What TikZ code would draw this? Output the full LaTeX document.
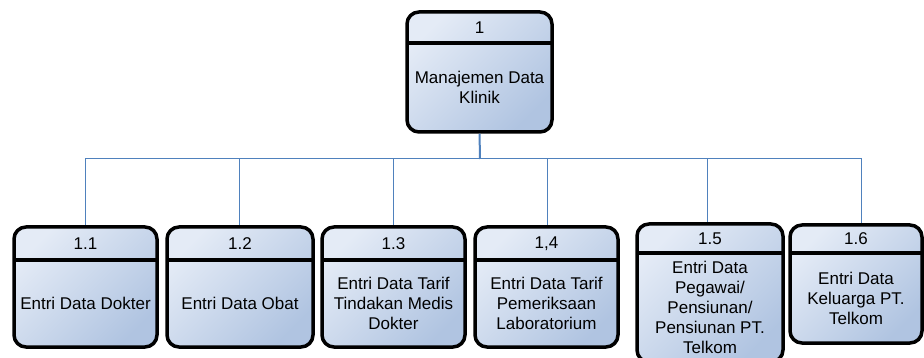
\documentclass[tikz,border=0pt]{standalone}
\usepackage{fontspec}
\setmainfont{Liberation Sans}
\usetikzlibrary{positioning}
\definecolor{boxlight}{RGB}{228,235,246}
\definecolor{boxdark}{RGB}{176,196,225}
\definecolor{linkblue}{RGB}{79,129,189}

\begin{document}
\begin{tikzpicture}[x=1pt, y=-1pt,
  proc/.style={draw, line width=3.5pt, rounded corners=12pt, outer sep=0pt, inner sep=0pt,
    top color=boxlight, bottom color=boxdark, shading angle=45},
  head/.style={inner sep=0pt, outer sep=0pt, font=\fontsize{17}{20}\selectfont},
  body/.style={inner sep=0pt, outer sep=0pt, align=center, font=\fontsize{17}{20}\selectfont},
  link/.style={draw=linkblue, line width=1pt, shorten >=1.75pt}]
\useasboundingbox (0,0) rectangle (924,358);

% level 0
\node[proc, minimum width=145pt, minimum height=120pt] (p1) at (479.5,72) {};
\node[head, minimum width=145pt, minimum height=31pt, below=0pt of p1.north] (p1h) {1};
\node[body, minimum width=145pt, minimum height=89pt, below=0pt of p1h] (p1b) {Manajemen Data\\Klinik};
\draw[line width=3.5pt] (p1h.south west) -- (p1h.south east);

% level 1
\node[proc, minimum width=143pt, minimum height=120pt] (p11) at (85.5,287) {};
\node[head, minimum width=143pt, minimum height=33pt, below=0pt of p11.north] (p11h) {1.1};
\node[body, minimum width=143pt, minimum height=87pt, below=0pt of p11h] (p11b) {Entri Data Dokter};
\draw[line width=3.5pt] (p11h.south west) -- (p11h.south east);

\node[proc, minimum width=146pt, minimum height=120pt] (p12) at (240,287) {};
\node[head, minimum width=146pt, minimum height=33pt, below=0pt of p12.north] (p12h) {1.2};
\node[body, minimum width=146pt, minimum height=87pt, below=0pt of p12h] (p12b) {Entri Data Obat};
\draw[line width=3.5pt] (p12h.south west) -- (p12h.south east);

\node[proc, minimum width=143pt, minimum height=120pt] (p13) at (393.5,287) {};
\node[head, minimum width=143pt, minimum height=33pt, below=0pt of p13.north] (p13h) {1.3};
\node[body, minimum width=143pt, minimum height=87pt, below=0pt of p13h] (p13b) {Entri Data Tarif\\Tindakan Medis\\Dokter};
\draw[line width=3.5pt] (p13h.south west) -- (p13h.south east);

\node[proc, minimum width=143pt, minimum height=120pt] (p14) at (546.5,287) {};
\node[head, minimum width=143pt, minimum height=33pt, below=0pt of p14.north] (p14h) {1,4};
\node[body, minimum width=143pt, minimum height=87pt, below=0pt of p14h] (p14b) {Entri Data Tarif\\Pemeriksaan\\Laboratorium};
\draw[line width=3.5pt] (p14h.south west) -- (p14h.south east);

\node[proc, minimum width=146pt, minimum height=138pt] (p15) at (710,293) {};
\node[head, minimum width=146pt, minimum height=29pt, below=0pt of p15.north] (p15h) {1.5};
\node[body, minimum width=146pt, minimum height=109pt, below=0pt of p15h] (p15b) {Entri Data\\Pegawai/\\Pensiunan/\\Pensiunan PT.\\Telkom};
\draw[line width=3.5pt] (p15h.south west) -- (p15h.south east);

\node[proc, minimum width=132pt, minimum height=118pt] (p16) at (856,284) {};
\node[head, minimum width=132pt, minimum height=28pt, below=0pt of p16.north] (p16h) {1.6};
\node[body, minimum width=132pt, minimum height=90pt, below=0pt of p16h] (p16b) {Entri Data\\Keluarga PT.\\Telkom};
\draw[line width=3.5pt] (p16h.south west) -- (p16h.south east);

% links
\coordinate (bus) at (480,159);
\draw[link, line width=2pt, shorten >=0pt, shorten <=1.75pt] (p1.south) -- (bus);
\foreach \p/\dx in {p11/0, p12/-1, p13/0, p14/0.5, p15/-3, p16/5}
  \draw[link] (bus) -| ([xshift=\dx pt]\p.north);
\end{tikzpicture}
\end{document}
